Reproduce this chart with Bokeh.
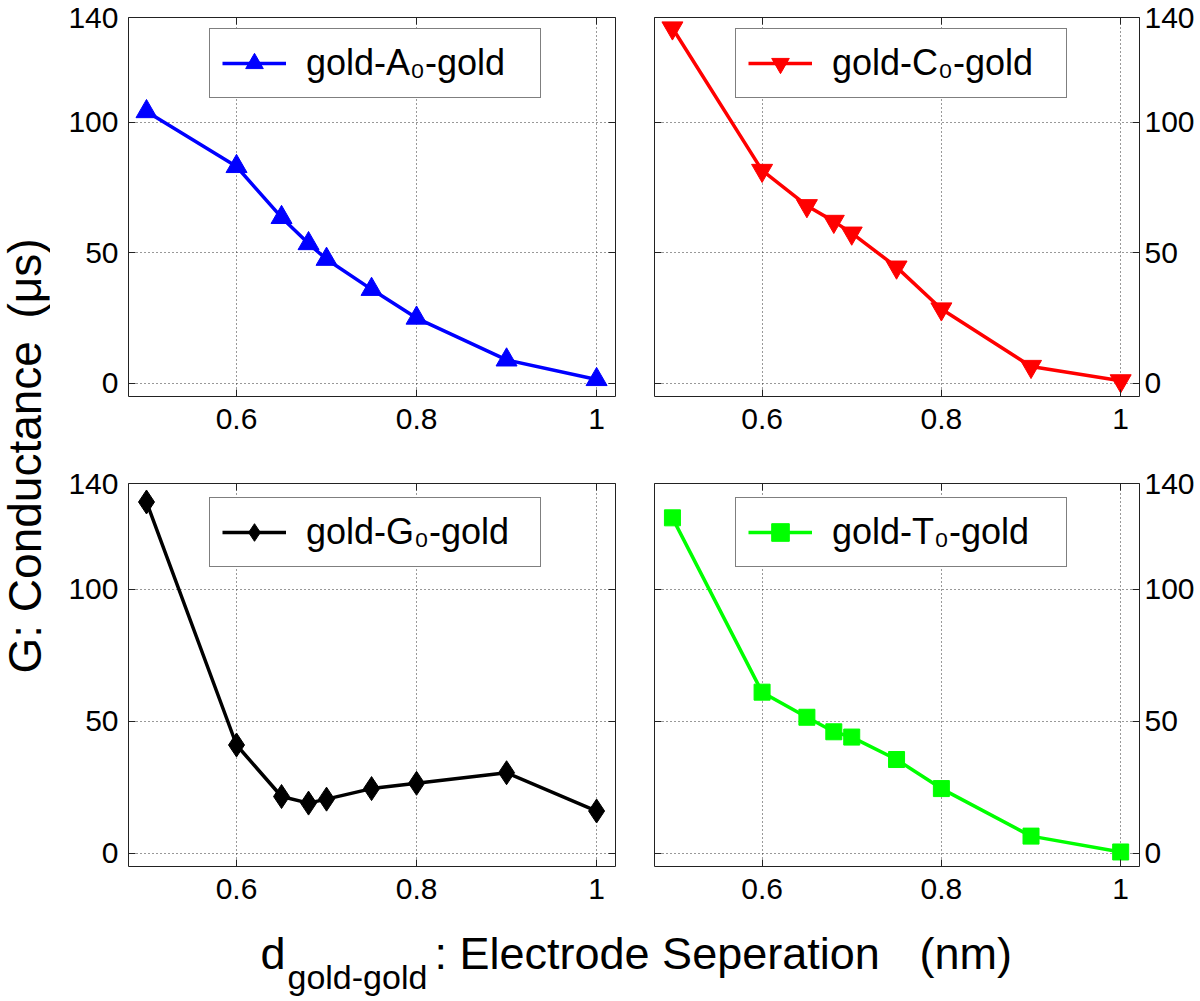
import math
from bokeh.plotting import figure
from bokeh.models import (Range1d, FixedTicker, LinearAxis, Legend, LegendItem,
                          Label, CustomJSTickFormatter)
from bokeh.layouts import row, column
from bokeh.embed import file_html
from bokeh.resources import INLINE

# ---------------- data ----------------
separation = [0.5, 0.6, 0.65, 0.68, 0.7, 0.75, 0.8, 0.9, 1.0]
gold_A = [104, 83, 63.5, 53.5, 47.5, 36, 25, 9, 1.5]
gold_C = [136, 81.5, 68, 62, 57.5, 44.5, 28.5, 6.5, 1]
gold_G = [133, 41, 21.5, 19, 20.5, 24.5, 26.5, 30.5, 16]
gold_T = [127, 61, 51.5, 46, 44, 35.5, 24.5, 6.5, 0.5]

labels = ["gold-A\u2080-gold", "gold-C\u2080-gold", "gold-G\u2080-gold", "gold-T\u2080-gold"]
x_ticks = [0.6, 0.8, 1.0]
y_ticks = [0, 50, 100, 140]
x_lim = (0.48, 1.021)
y_lim = (-5, 140)

FONT = "Liberation Sans"
TICK_FS = "30px"


def style_axis(ax, ticks, show_labels, standoff):
    ax.ticker = FixedTicker(ticks=ticks)
    ax.formatter = CustomJSTickFormatter(code="return String(tick)")
    ax.axis_line_color = None
    ax.major_tick_in = 7
    ax.major_tick_out = 0
    ax.minor_tick_line_color = None
    ax.major_tick_line_color = "#222222"
    ax.major_label_text_font = FONT
    if show_labels:
        ax.major_label_text_color = "black"
        ax.major_label_text_font_size = TICK_FS
        ax.major_label_standoff = standoff
    else:
        ax.major_label_text_color = None
        ax.major_label_text_font_size = "1px"
        ax.major_label_standoff = 0


def panel(yvals, color, marker, msize, label, right_side, top_row):
    fw = 485 if right_side else 487
    fh = 379 if top_row else 383
    p = figure(
        frame_width=fw, frame_height=fh,
        x_range=Range1d(*x_lim), y_range=Range1d(*y_lim),
        y_axis_location="right" if right_side else "left",
        output_backend="svg", toolbar_location=None,
        min_border_left=20 if right_side else 78,
        min_border_right=61 if right_side else 19,
        min_border_top=17 if top_row else 40,
        min_border_bottom=47 if top_row else 49,
    )
    p.background_fill_color = "white"
    p.border_fill_color = "white"
    p.outline_line_color = "#222222"
    p.outline_line_width = 1

    style_axis(p.xaxis[0], x_ticks, True, 12)
    style_axis(p.yaxis[0], y_ticks, True, 5 if right_side else 10)

    top_ax = LinearAxis()
    style_axis(top_ax, x_ticks, False, 0)
    p.add_layout(top_ax, "above")
    mirror_y = LinearAxis()
    style_axis(mirror_y, y_ticks, False, 0)
    p.add_layout(mirror_y, "left" if right_side else "right")

    for g in (p.xgrid[0], p.ygrid[0]):
        g.grid_line_color = "#333333"
        g.grid_line_dash = "1 3"
        g.grid_line_width = 1
    p.xgrid[0].ticker = FixedTicker(ticks=x_ticks)
    p.ygrid[0].ticker = FixedTicker(ticks=y_ticks)

    lr = p.line(separation, yvals, line_color=color, line_width=3.5)
    sr = p.scatter(separation, yvals, marker=marker, size=msize,
                   fill_color=color, line_color=color)

    top_gap = 13 if top_row else 16
    leg = Legend(items=[LegendItem(label=label, renderers=[lr, sr])],
                 location=(81, fh - top_gap - 68), margin=0, padding=12,
                 glyph_width=64, glyph_height=44, label_height=44,
                 label_width=222, label_standoff=20,
                 border_line_color="black", border_line_width=1,
                 background_fill_color="white", background_fill_alpha=1,
                 label_text_font=FONT, label_text_font_size="36px",
                 label_text_color="black")
    p.add_layout(leg, "center")
    return p


p_a = panel(gold_A, "#0000FF", "triangle", 21, labels[0], False, True)
p_c = panel(gold_C, "#FF0000", "inverted_triangle", 21, labels[1], True, True)
p_g = panel(gold_G, "#000000", "diamond", 24, labels[2], False, False)
p_t = panel(gold_T, "#00FF00", "square", 16, labels[3], True, False)


def blank(w, h):
    f = figure(width=w, height=h, output_backend="svg", toolbar_location=None,
               x_axis_location=None, y_axis_location=None,
               min_border_left=0, min_border_right=0,
               min_border_top=0, min_border_bottom=0)
    f.outline_line_color = None
    f.background_fill_color = "white"
    f.border_fill_color = "white"
    return f


# y label figure
ylab = blank(50, 915)
for txt, y in [("G: Conductance", 242), ("(\u03bcs)", 597)]:
    ylab.add_layout(Label(x=24, y=y, x_units="screen", y_units="screen",
                          text=txt, angle=math.pi / 2,
                          text_align="left", text_baseline="alphabetic",
                          text_font=FONT, text_font_size="46px", text_color="black"))

# x label figure
xlab = blank(1200, 86)
for txt, x, y, fs in [("d", 260, 48, "45px"),
                      ("gold-gold", 287, 25, "34px"),
                      (": Electrode Seperation", 434, 48, "45px"),
                      ("(nm)", 919, 48, "45px")]:
    xlab.add_layout(Label(x=x, y=y, x_units="screen", y_units="screen",
                          text=txt, text_align="left", text_baseline="alphabetic",
                          text_font=FONT, text_font_size=fs, text_color="black"))

grid = column(row(p_a, p_c), row(p_g, p_t))
layout = column(row(ylab, grid), xlab)

open("out.html", "w").write(file_html(layout, INLINE))
